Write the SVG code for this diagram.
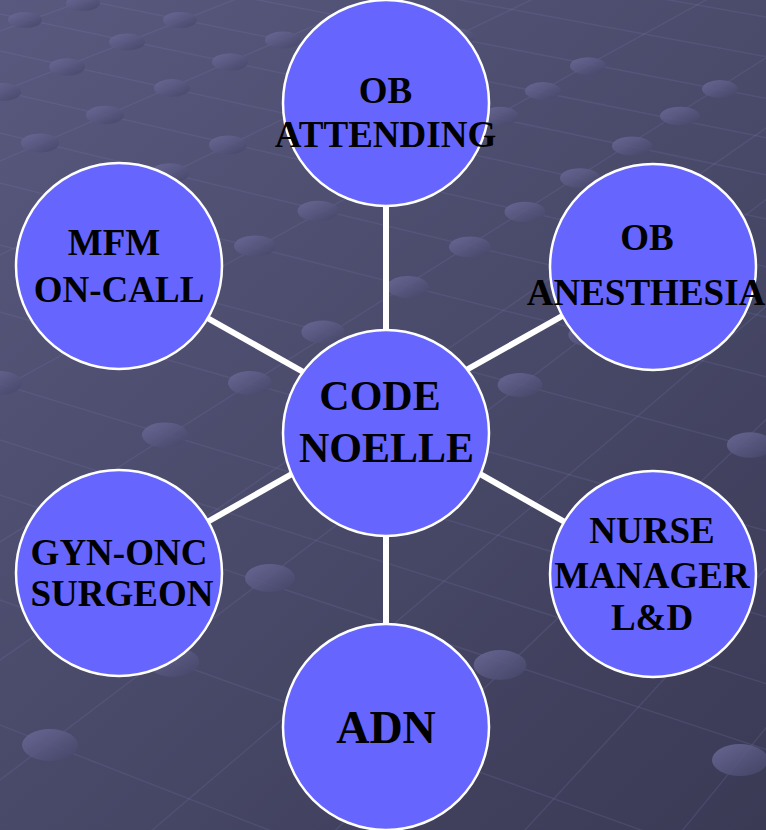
<svg xmlns="http://www.w3.org/2000/svg" width="766" height="830" viewBox="0 0 766 830">
  <defs>
    <linearGradient id="bg" x1="0" y1="0" x2="766" y2="830" gradientUnits="userSpaceOnUse">
      <stop offset="0" stop-color="#59597f"/>
      <stop offset="1" stop-color="#3a3a55"/>
    </linearGradient>
    <linearGradient id="dg" x1="0" y1="0" x2="1" y2="1">
      <stop offset="0" stop-color="#6c6c9c"/>
      <stop offset="1" stop-color="#444466"/>
    </linearGradient>
    <style>
      .grid line { stroke: #8080b8; stroke-opacity: 0.18; stroke-width: 1.5; }
      .dot { fill: url(#dg); opacity: 0.85; }
      .conn line { stroke: #ffffff; stroke-width: 6; }
      .node circle { fill: #6666ff; stroke: #ffffff; stroke-width: 2.5; }
      .node text { font-family: "Liberation Serif", "Times New Roman", serif; font-weight: bold; fill: #000000; text-anchor: middle; font-size: 37px; }
      .node text.big { font-size: 42px; }
      .node text.huge { font-size: 46px; }
    </style>
  </defs>

  <rect x="0" y="0" width="766" height="830" fill="url(#bg)"/>

  <g id="background-grid" class="grid">
    <line x1="1891" y1="-653" x2="-1891" y2="715"/>
    <line x1="1891" y1="-653" x2="-1891" y2="837"/>
    <line x1="1891" y1="-653" x2="-1891" y2="975"/>
    <line x1="1891" y1="-653" x2="-1891" y2="1163"/>
    <line x1="1891" y1="-653" x2="-1891" y2="1431"/>
    <line x1="1891" y1="-653" x2="-1891" y2="1737"/>
    <line x1="1891" y1="-653" x2="-1891" y2="1973"/>
    <line x1="1891" y1="-653" x2="-1891" y2="2213"/>
    <line x1="1891" y1="-653" x2="-1891" y2="2573"/>
    <line x1="1891" y1="-653" x2="-1891" y2="2953"/>
    <line x1="1891" y1="-653" x2="-1891" y2="3453"/>
    <line x1="1891" y1="-653" x2="-1891" y2="3989"/>
    <line x1="1891" y1="-653" x2="-1891" y2="4453"/>
    <line x1="-3935" y1="-812" x2="3935" y2="576"/>
    <line x1="-3935" y1="-812" x2="3935" y2="642"/>
    <line x1="-3935" y1="-812" x2="3935" y2="712"/>
    <line x1="-3935" y1="-812" x2="3935" y2="778"/>
    <line x1="-3935" y1="-812" x2="3935" y2="840"/>
    <line x1="-3935" y1="-812" x2="3935" y2="914"/>
    <line x1="-3935" y1="-812" x2="3935" y2="994"/>
    <line x1="-3935" y1="-812" x2="3935" y2="1078"/>
    <line x1="-3935" y1="-812" x2="3935" y2="1178"/>
    <line x1="-3935" y1="-812" x2="3935" y2="1302"/>
    <line x1="-3935" y1="-812" x2="3935" y2="1436"/>
    <line x1="-3935" y1="-812" x2="3935" y2="1580"/>
    <line x1="-3935" y1="-812" x2="3935" y2="1692"/>
    <line x1="-3935" y1="-812" x2="3935" y2="1802"/>
    <line x1="-3935" y1="-812" x2="3935" y2="2012"/>
    <line x1="-3935" y1="-812" x2="3935" y2="2262"/>
  </g>

  <g id="background-dots">
    <ellipse class="dot" cx="83" cy="3" rx="17" ry="8"/>
    <ellipse class="dot" cx="25" cy="20" rx="17" ry="8"/>
    <ellipse class="dot" cx="180" cy="20" rx="17" ry="8"/>
    <ellipse class="dot" cx="283" cy="40" rx="18" ry="8.5"/>
    <ellipse class="dot" cx="127" cy="42" rx="18" ry="8.5"/>
    <ellipse class="dot" cx="67" cy="67" rx="18" ry="8.7"/>
    <ellipse class="dot" cx="230" cy="62" rx="18" ry="8.7"/>
    <ellipse class="dot" cx="172" cy="88" rx="18" ry="9"/>
    <ellipse class="dot" cx="3" cy="92" rx="18" ry="9"/>
    <ellipse class="dot" cx="105" cy="115" rx="19" ry="9.2"/>
    <ellipse class="dot" cx="40" cy="143" rx="19" ry="9.5"/>
    <ellipse class="dot" cx="228" cy="145" rx="19" ry="9.5"/>
    <ellipse class="dot" cx="170" cy="173" rx="19.5" ry="9.8"/>
    <ellipse class="dot" cx="457" cy="37" rx="17.5" ry="8.4"/>
    <ellipse class="dot" cx="588" cy="66" rx="18" ry="8.7"/>
    <ellipse class="dot" cx="543" cy="91" rx="18" ry="9"/>
    <ellipse class="dot" cx="500" cy="116" rx="19" ry="9.2"/>
    <ellipse class="dot" cx="720" cy="89" rx="18" ry="9"/>
    <ellipse class="dot" cx="680" cy="116" rx="20" ry="9.2"/>
    <ellipse class="dot" cx="632" cy="146" rx="20" ry="9.5"/>
    <ellipse class="dot" cx="580" cy="178" rx="20" ry="9.8"/>
    <ellipse class="dot" cx="318" cy="211" rx="20.5" ry="10.2"/>
    <ellipse class="dot" cx="255" cy="246" rx="21" ry="10.6"/>
    <ellipse class="dot" cx="525" cy="212" rx="20.5" ry="10.2"/>
    <ellipse class="dot" cx="470" cy="247" rx="21" ry="10.6"/>
    <ellipse class="dot" cx="408" cy="287" rx="21" ry="11"/>
    <ellipse class="dot" cx="323" cy="332" rx="21.6" ry="11.5"/>
    <ellipse class="dot" cx="590" cy="335" rx="21.6" ry="11.5"/>
    <ellipse class="dot" cx="250" cy="383" rx="22" ry="12"/>
    <ellipse class="dot" cx="0" cy="383" rx="22" ry="12"/>
    <ellipse class="dot" cx="520" cy="385" rx="22.4" ry="12"/>
    <ellipse class="dot" cx="165" cy="435" rx="23" ry="12.6"/>
    <ellipse class="dot" cx="750" cy="445" rx="23.2" ry="12.7"/>
    <ellipse class="dot" cx="270" cy="578" rx="25" ry="14"/>
    <ellipse class="dot" cx="500" cy="665" rx="26.3" ry="15"/>
    <ellipse class="dot" cx="173" cy="662" rx="26.3" ry="15"/>
    <ellipse class="dot" cx="50" cy="745" rx="28" ry="16"/>
    <ellipse class="dot" cx="740" cy="760" rx="28" ry="16"/>
  </g>

  <g id="connectors" class="conn">
    <line x1="386" y1="200" x2="386" y2="340"/>
    <line x1="386" y1="530" x2="386" y2="630"/>
    <line x1="170" y1="297" x2="330" y2="387"/>
    <line x1="596" y1="297" x2="436" y2="387"/>
    <line x1="336" y1="449" x2="172" y2="542"/>
    <line x1="436" y1="449" x2="600" y2="542"/>
  </g>

  <g id="node-ob-attending" class="node">
    <circle cx="386" cy="103" r="103"/>
    <text x="385.5" y="103">OB</text>
    <text x="385.5" y="147">ATTENDING</text>
  </g>

  <g id="node-mfm-on-call" class="node">
    <circle cx="119" cy="266" r="103"/>
    <text x="114" y="255">MFM</text>
    <text x="119" y="302">ON-CALL</text>
  </g>

  <g id="node-ob-anesthesia" class="node">
    <circle cx="653" cy="267" r="103"/>
    <text x="647" y="250">OB</text>
    <text x="646" y="305">ANESTHESIA</text>
  </g>

  <g id="node-code-noelle" class="node">
    <circle cx="386" cy="433" r="103"/>
    <text class="big" x="380" y="410">CODE</text>
    <text class="big" x="386.5" y="462">NOELLE</text>
  </g>

  <g id="node-gyn-onc-surgeon" class="node">
    <circle cx="119" cy="573" r="103"/>
    <text x="119" y="565">GYN-ONC</text>
    <text x="122" y="606">SURGEON</text>
  </g>

  <g id="node-nurse-manager" class="node">
    <circle cx="653" cy="574" r="103"/>
    <text x="652" y="543">NURSE</text>
    <text x="652" y="588">MANAGER</text>
    <text x="652" y="630">L&amp;D</text>
  </g>

  <g id="node-adn" class="node">
    <circle cx="386" cy="727" r="103"/>
    <text class="huge" x="386" y="743">ADN</text>
  </g>
</svg>
